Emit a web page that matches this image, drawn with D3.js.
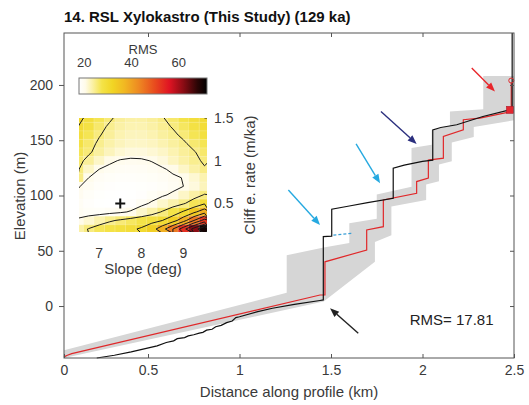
<!DOCTYPE html>
<html>
<head>
<meta charset="utf-8">
<script src="https://cdn.jsdelivr.net/npm/d3@7"></script>
<style>
body { margin: 0; background: #fff; }
svg { display: block; font-family: "Liberation Sans", Arial, sans-serif; }
</style>
</head>
<body>
<svg width="529" height="405"></svg>
<script>
const d3 = window.d3

// ---- main panel data (distance in km, elevation in m) ----
const title = '14. RSL Xylokastro (This Study) (129 ka)'
const xTicks = [0, 0.5, 1, 1.5, 2, 2.5]
const yTicks = [0, 50, 100, 150, 200]

// observed topographic profile
const obsKm = [0.195, 0.30, 0.40, 0.49, 0.55, 0.60, 0.64, 0.66, 0.70, 0.72, 0.75, 0.78, 0.80, 0.82, 0.85, 0.87,
  0.90, 0.93, 0.96, 0.98, 1.00, 1.10, 1.18, 1.30, 1.44, 1.458, 1.458, 1.504, 1.504, 1.60, 1.70, 1.84, 1.84,
  1.90, 1.96, 2.00, 2.056, 2.056, 2.10, 2.187, 2.33, 2.476, 2.49, 2.49]
const obsElev = [-47, -44.5, -41.5, -38.3, -36, -33, -31.5, -29.5, -28.5, -27, -26, -24.5, -23.8, -21.8, -21, -18.7,
  -17.5, -15, -13.5, -10.5, -9.7, -5, -2, 1.5, 5, 5.5, 62.8, 63.2, 87.6, 90.5, 93.5, 97.5, 124.7,
  127.5, 129.5, 130.8, 132, 159.4, 161.5, 164, 171.5, 177.5, 178, 247]

// modelled profile
const modelKm = [0, 0.02, 0.046, 1.44, 1.467, 1.467, 1.695, 1.695, 1.786, 1.786, 1.968, 1.968, 2.032, 2.032,
  2.114, 2.114, 2.223, 2.223, 2.314, 2.478, 2.485, 2.485]
const modelElev = [-46, -44.5, -43, 10, 10, 40, 50.7, 68.8, 71.8, 96, 102, 112.6, 115.7, 132,
  133.8, 153.4, 159.4, 168.5, 170, 175.7, 177, 202]

// uncertainty envelope
const bandTopKm = [0, 1.258, 1.258, 1.46, 1.60, 1.60, 1.75, 1.75, 1.94, 1.94, 2.05, 2.05, 2.15, 2.15, 2.332, 2.332, 2.5]
const bandTopElev = [-40, 12, 46, 53, 57, 75, 79, 101, 108, 143, 146, 159, 163, 176, 178, 208, 208]
const bandBotKm = [0, 1.46, 1.74, 1.74, 1.83, 1.83, 2.02, 2.02, 2.09, 2.09, 2.16, 2.16, 2.28, 2.28, 2.5]
const bandBotElev = [-47, 4, 40, 58, 64, 90, 96, 110, 113, 128, 131, 148, 153, 162, 168]

// gap bridged by the dashed segment
const gapKm = [1.513, 1.613]
const gapElev = [64.2, 65.8]

// present-day marker and highest shoreline
const markerKm = 2.478, markerElev = 177.5
const topKm = 2.485, topElev = 204

const arrows = [
  { color: '#26a9e0', from: [1.267, 105], to: [1.44, 73.4] },
  { color: '#26a9e0', from: [1.637, 146.7], to: [1.768, 111.1] },
  { color: '#2b2f7e', from: [1.773, 176], to: [1.968, 146.7] },
  { color: '#e8262b', from: [2.269, 215.3], to: [2.396, 194.1] },
  { color: '#222222', from: [1.649, -24.7], to: [1.495, -2.1] }
]
const rmsBest = 17.81

// ---- inset data ----
const slopes = [6.5, 6.75, 7, 7.25, 7.5, 7.75, 8, 8.25, 8.5, 8.75, 9, 9.25, 9.5]
const cliffRates = [1.5, 1.4, 1.3, 1.2, 1.1, 1.0, 0.9, 0.8, 0.7, 0.6, 0.5, 0.4, 0.3, 0.2]
const rmsGrid = [
  [31, 29, 27, 25.5, 24, 23.5, 23.5, 24, 24.8, 26, 27.5, 29, 30],
  [30, 28, 26, 24.5, 23.5, 23, 23, 23.5, 24.3, 25.2, 26.5, 28, 29.5],
  [29, 27, 25.2, 24, 23, 22.5, 22.5, 23, 23.8, 24.5, 25.5, 27, 28.5],
  [28, 26, 24.5, 23.3, 22.5, 22, 22, 22.3, 23, 23.8, 24.6, 25.8, 27],
  [27, 25.5, 23.8, 22.5, 21.5, 21, 21, 21.4, 22, 23, 24, 24.8, 26],
  [26, 24, 22, 20.5, 19.8, 19.6, 19.7, 20.1, 21, 22.3, 23.5, 24.5, 25.3],
  [25.3, 22, 20, 19.3, 19, 18.9, 19, 19.3, 19.7, 20.5, 22, 23.5, 24.8],
  [24.8, 20, 19, 18.6, 18.4, 18.4, 18.5, 18.7, 19.1, 19.6, 20.1, 21.5, 23],
  [20.2, 19.2, 18.5, 18.2, 18, 18, 18.1, 18.3, 18.6, 19.2, 20, 21, 22.5],
  [19.5, 18.6, 18.1, 17.9, 17.85, 17.9, 18.2, 18.8, 19.6, 20.5, 22, 23.5, 25.2],
  [19, 18.3, 17.9, 17.85, 17.81, 18.2, 19.2, 20.4, 21.8, 23.2, 24.6, 26.8, 29.5],
  [19.2, 18.7, 18.6, 19, 19.5, 20.3, 21.8, 23.3, 25.3, 27.5, 30.5, 34, 38],
  [20.3, 21.5, 23, 24.5, 25.5, 26.5, 27.5, 28.6, 30, 33, 38, 45, 52],
  [23.5, 25.2, 26.8, 27.8, 28.5, 29.3, 30.5, 33, 38, 45, 53, 62, 70]
]
const bestFit = [7.5, 0.5]
const contourLevels = [20, 25, 30, 35, 40, 45, 50, 55, 60, 65]
const rmsTicks = [20, 40, 60]
const slopeTicks = [7, 8, 9]
const rateTicks = [0.5, 1, 1.5]
const cmapStops = [17.8, 20.5, 23.5, 27.5, 32, 37, 43, 50, 56, 62, 68, 72]
const cmapColors = ['#ffffff', '#fffbe8', '#fbf1a6', '#f4e348', '#f1d524', '#f1b822', '#ee8a22', '#e84a1e',
  '#e01423', '#8a0c14', '#2a0505', '#000000']

// ---- scales ----
const x = d3.scaleLinear().domain([0, 0.5, 2.5]).range([64, 148, 514])
const y = d3.scaleLinear().domain([-47, 247]).range([358, 33])

const svg = d3.select('svg')
const zip = (a, b) => a.map((v, i) => [v, b[i]])
const line = d3.line().x(d => x(d[0])).y(d => y(d[1]))

// envelope
const bandPts = zip(bandTopKm, bandTopElev).concat(zip(bandBotKm, bandBotElev).reverse())
svg.append('path')
    .attr('d', line(bandPts) + 'Z')
    .attr('fill', '#d6d6d6')

// dashed link
svg.append('path')
    .attr('d', line(zip(gapKm, gapElev)))
    .attr('fill', 'none')
    .attr('stroke', '#3a9fd6')
    .attr('stroke-width', 1.3)
    .attr('stroke-dasharray', '3,2')

svg.append('path')
    .attr('d', line(zip(modelKm, modelElev)))
    .attr('fill', 'none')
    .attr('stroke', '#e0282a')
    .attr('stroke-width', 1.2)

svg.append('path')
    .attr('d', line(zip(obsKm, obsElev)))
    .attr('fill', 'none')
    .attr('stroke', '#111')
    .attr('stroke-width', 1.2)

svg.append('circle')
    .attr('cx', x(topKm))
    .attr('cy', y(topElev))
    .attr('r', 2.5)
    .attr('fill', 'none')
    .attr('stroke', '#e0282a')
    .attr('stroke-width', 1)

svg.append('rect')
    .attr('x', x(markerKm) - 3.5)
    .attr('y', y(markerElev) - 3.5)
    .attr('width', 7)
    .attr('height', 7)
    .attr('fill', '#e3262f')
    .attr('stroke', '#b0182a')
    .attr('stroke-width', 0.6)

// arrows
arrows.forEach(a => {
  const x0 = x(a.from[0]), y0 = y(a.from[1]), x1 = x(a.to[0]), y1 = y(a.to[1])
  const ang = Math.atan2(y1 - y0, x1 - x0)
  const len = 9, half = 3.6
  const bx = x1 - len * Math.cos(ang), by = y1 - len * Math.sin(ang)
  svg.append('line')
      .attr('x1', x0).attr('y1', y0).attr('x2', bx).attr('y2', by)
      .attr('stroke', a.color)
      .attr('stroke-width', 1.4)
  svg.append('path')
      .attr('d', `M${x1},${y1}L${bx + half * Math.sin(ang)},${by - half * Math.cos(ang)}` +
                 `L${bx - half * Math.sin(ang)},${by + half * Math.cos(ang)}Z`)
      .attr('fill', a.color)
})

svg.append('text')
    .attr('x', x(1.93))
    .attr('y', y(-17.5))
    .attr('font-size', 15)
    .attr('fill', '#222')
    .text('RMS= ' + rmsBest.toFixed(2))

// axes
const styleAxis = g => {
  g.select('.domain').remove()
  g.selectAll('.tick line').attr('stroke', '#555')
  g.selectAll('.tick text').attr('fill', '#3a3a3a').attr('font-size', 14)
    .attr('font-family', '"Liberation Sans", Arial, sans-serif')
}
svg.append('g')
    .attr('transform', 'translate(0,358)')
    .call(d3.axisBottom(x).tickValues(xTicks).tickSize(-4).tickPadding(7).tickFormat(d3.format('')))
    .call(styleAxis)
svg.append('g')
    .attr('transform', 'translate(0,33)')
    .call(d3.axisTop(x).tickValues(xTicks.slice(1, -1)).tickSize(-4).tickFormat(''))
    .call(styleAxis)
svg.append('g')
    .attr('transform', 'translate(64,0)')
    .call(d3.axisLeft(y).tickValues(yTicks).tickSize(5).tickPadding(6))
    .call(styleAxis)
svg.append('g')
    .attr('transform', 'translate(514,0)')
    .call(d3.axisRight(y).tickValues(yTicks).tickSize(-4).tickFormat(''))
    .call(styleAxis)

svg.append('rect')
    .attr('x', 64).attr('y', 33).attr('width', 450).attr('height', 325)
    .attr('fill', 'none')
    .attr('stroke', '#555')

svg.append('text')
    .attr('x', 64).attr('y', 22)
    .attr('font-size', 15).attr('font-weight', 'bold').attr('fill', '#111')
    .text(title)

svg.append('text')
    .attr('x', 289).attr('y', 397)
    .attr('text-anchor', 'middle')
    .attr('font-size', 15).attr('fill', '#3a3a3a')
    .text('Distance along profile (km)')

svg.append('text')
    .attr('transform', 'translate(25,196) rotate(-90)')
    .attr('text-anchor', 'middle')
    .attr('font-size', 15).attr('fill', '#3a3a3a')
    .text('Elevation (m)')

// ---- inset: RMS misfit over slope / cliff erosion rate ----
const sx = d3.scaleLinear().domain([6.52, 9.56]).range([79, 207])
const sy = d3.scaleLinear().domain([0.165, 1.5]).range([232, 118])
const color = d3.scaleLinear().domain(cmapStops).range(cmapColors).clamp(true)
const cbar = d3.scaleLinear().domain([17.8, 72]).range([79, 207])

const defs = svg.append('defs')
defs.append('clipPath').attr('id', 'heatclip')
  .append('rect').attr('x', 79).attr('y', 118).attr('width', 128).attr('height', 114)

const grad = defs.append('linearGradient').attr('id', 'cmap')
grad.selectAll('stop')
  .data(cmapStops)
  .enter()
  .append('stop')
    .attr('offset', d => (d - 17.8) / (72 - 17.8))
    .attr('stop-color', d => color(d))

const inset = svg.append('g')
const heat = inset.append('g').attr('clip-path', 'url(#heatclip)')
const ds = 0.125, dr = 0.05
rmsGrid.forEach((row, j) => {
  heat.selectAll(null)
    .data(row)
    .enter()
    .append('rect')
      .attr('x', (d, i) => sx(slopes[i] - ds))
      .attr('y', sy(cliffRates[j] + dr))
      .attr('width', sx(slopes[1]) - sx(slopes[0]) + 0.4)
      .attr('height', sy(cliffRates[j] - dr) - sy(cliffRates[j] + dr) + 0.4)
      .attr('fill', d => color(d))
})
// faint cell grid
heat.selectAll('line.gx')
  .data(slopes)
  .enter()
  .append('line')
    .attr('x1', d => sx(d + ds)).attr('x2', d => sx(d + ds))
    .attr('y1', 118).attr('y2', 232)
    .attr('stroke', '#fff').attr('stroke-opacity', 0.35).attr('stroke-width', 0.6)
heat.selectAll('line.gy')
  .data(cliffRates)
  .enter()
  .append('line')
    .attr('y1', d => sy(d - dr)).attr('y2', d => sy(d - dr))
    .attr('x1', 79).attr('x2', 207)
    .attr('stroke', '#fff').attr('stroke-opacity', 0.35).attr('stroke-width', 0.6)

const contours = d3.contours()
    .size([slopes.length, cliffRates.length])
    .thresholds(contourLevels)(rmsGrid.flat())
const gridProj = d3.geoTransform({
  point: function (cx, cy) {
    this.stream.point(sx(slopes[0] + (cx - 0.5) * 0.25), sy(cliffRates[0] - (cy - 0.5) * 0.1))
  }
})
heat.selectAll('path.iso')
  .data(contours)
  .enter()
  .append('path')
    .attr('class', 'iso')
    .attr('d', d3.geoPath(gridProj))
    .attr('fill', 'none')
    .attr('stroke', '#1a1a1a')
    .attr('stroke-width', 1)

inset.append('path')
    .attr('d', `M${sx(bestFit[0]) - 5},${sy(bestFit[1])}h10M${sx(bestFit[0])},${sy(bestFit[1]) - 5}v10`)
    .attr('stroke', '#111')
    .attr('stroke-width', 2)

// colour bar
inset.append('rect')
    .attr('x', 79).attr('y', 78).attr('width', 128).attr('height', 16)
    .attr('fill', 'url(#cmap)')
    .attr('stroke', '#777')
inset.selectAll('text.cb')
  .data(rmsTicks)
  .enter()
  .append('text')
    .attr('x', d => cbar(d))
    .attr('y', 67)
    .attr('text-anchor', 'middle')
    .attr('font-size', 13).attr('fill', '#3a3a3a')
    .text(d => d)
inset.append('text')
    .attr('x', 143).attr('y', 54)
    .attr('text-anchor', 'middle')
    .attr('font-size', 13).attr('fill', '#3a3a3a')
    .text('RMS')

inset.selectAll('text.sl')
  .data(slopeTicks)
  .enter()
  .append('text')
    .attr('x', d => sx(d))
    .attr('y', 258)
    .attr('text-anchor', 'middle')
    .attr('font-size', 14).attr('fill', '#3a3a3a')
    .text(d => d)
inset.append('text')
    .attr('x', 143).attr('y', 274)
    .attr('text-anchor', 'middle')
    .attr('font-size', 15).attr('fill', '#3a3a3a')
    .text('Slope (deg)')

inset.selectAll('text.rt')
  .data(rateTicks)
  .enter()
  .append('text')
    .attr('x', 214)
    .attr('y', d => sy(d) + 5)
    .attr('font-size', 14).attr('fill', '#3a3a3a')
    .text(d => d)
inset.append('text')
    .attr('transform', 'translate(255,175) rotate(-90)')
    .attr('text-anchor', 'middle')
    .attr('font-size', 15).attr('fill', '#3a3a3a')
    .text('Cliff e. rate (m/ka)')
</script>
</body>
</html>
